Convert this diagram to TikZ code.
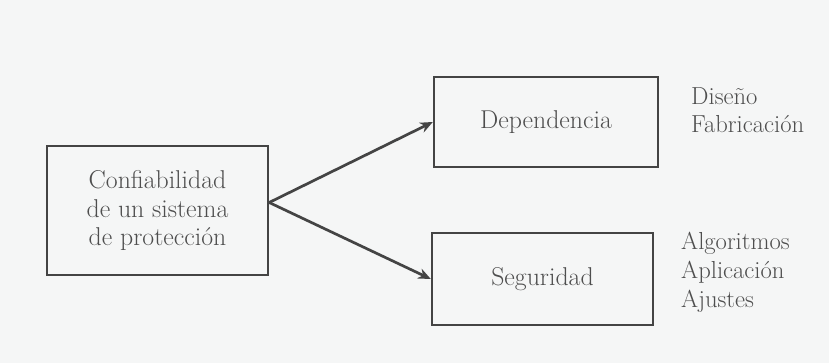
\documentclass[tikz,border=0pt]{standalone}
\usetikzlibrary{arrows.meta}
\definecolor{paper}{RGB}{245,246,246}
\definecolor{ink}{RGB}{68,68,68}
\definecolor{tinta}{RGB}{78,78,78}

\begin{document}
\begin{tikzpicture}[x=0.03cm,y=-0.03cm,
    caja/.style={draw=ink,line width=2pt,text=tinta,align=center,inner sep=0pt,
      font=\fontsize{22}{24.7}\selectfont},
    lista/.style={anchor=north west,align=left,text=tinta,inner sep=0pt,
      font=\fontsize{21}{24.5}\selectfont},
    flecha/.style={draw=ink,line width=2.3pt,-{Stealth[length=0.38cm,width=0.32cm]}}]

      % fondo
      \fill[paper] (0,0) rectangle (829,363);
      \useasboundingbox (0,0) rectangle (829,363);

      \node[caja,minimum width=6.63cm,minimum height=3.87cm] (conf) at (157.5,210.5)
        {Confiabilidad\\de un sistema\\de protección};
      \node[caja,minimum width=6.72cm,minimum height=2.7cm] (dep) at (546,122) {Dependencia};
      \node[caja,minimum width=6.63cm,minimum height=2.76cm] (seg) at (542.5,279) {Seguridad};

      \node[lista] (depl) at (691,87) {Diseño\\Fabricación};
      \node[lista] (segl) at (681,232) {Algoritmos\\Aplicación\\Ajustes};

      \coordinate (split) at ([yshift=0.24cm]conf.east);
      \draw[flecha] (split) -- (dep.west);
      \draw[flecha] (split) -- (seg.west);

\end{tikzpicture}
\end{document}
